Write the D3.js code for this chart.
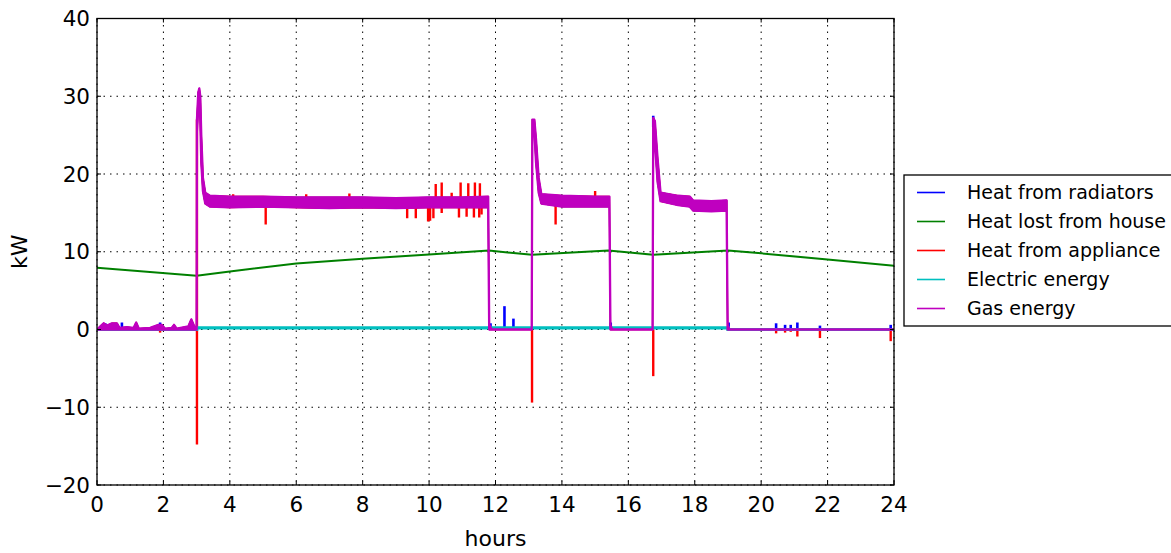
<!DOCTYPE html>
<html>
<head>
<meta charset="utf-8">
<script src="https://cdn.jsdelivr.net/npm/d3@7"></script>
<style>
  html, body { margin: 0; padding: 0; background: #fff; }
  svg { display: block; font-family: "DejaVu Sans", sans-serif; }
</style>
</head>
<body>
<svg id="chart" width="1171" height="553"></svg>
<script>
// ---------------- data ----------------
const xTicks = [0, 2, 4, 6, 8, 10, 12, 14, 16, 18, 20, 22, 24];
const yTicks = [-20, -10, 0, 10, 20, 30, 40];

// shared heating envelope (radiators, appliance and gas overlap almost exactly)
const heatHours = [0, 0.1, 0.2, 0.3, 0.45, 0.6, 0.68, 0.9, 1.1, 1.18, 1.26, 1.6, 1.85, 1.95, 2.05, 2.25, 2.32, 2.4, 2.75, 2.84, 2.93, 3.0,
  3.01, 3.05, 3.08, 3.11, 3.14, 3.19, 3.26, 3.4, 4.0, 5.0, 6.0, 7.0, 8.0, 9.0, 10.0, 11.0, 11.78,
  11.81, 11.86, 11.9, 13.09, 13.11, 13.17, 13.22, 13.3, 13.38, 14.0, 15.0, 15.43,
  15.46, 15.52, 16.73, 16.75, 16.8, 16.88, 16.97, 17.5, 17.85, 17.95, 18.5, 18.96,
  18.99, 19.05, 24];
const gasLow = [0, 0, 0, 0, 0, 0, 0, 0, 0, 0, 0, 0, 0, 0, 0, 0, 0, 0, 0, 0, 0, 0,
  25.5, 28.5, 29.5, 27.0, 21.5, 17.8, 16.2, 15.8, 15.7, 15.8, 15.7, 15.6, 15.7, 15.6, 15.7, 15.7, 15.7,
  0, 0, 0, 0, 25.0, 25.5, 21.5, 17.6, 16.2, 15.8, 15.8, 15.8,
  0, 0, 0, 25.5, 24.0, 19.0, 16.5, 16.0, 15.8, 15.3, 15.2, 15.3,
  0, 0, 0];
const gasHigh = [0, 0.4, 0.8, 0.5, 0.8, 0.8, 0.2, 0.3, 0.2, 0.9, 0.1, 0.2, 0.6, 0.6, 0.1, 0.2, 0.6, 0.1, 0.4, 1.3, 0.4, 0.2,
  27.0, 30.5, 31.0, 30.0, 25.0, 19.5, 17.6, 17.2, 17.1, 17.1, 17.0, 17.0, 17.0, 16.9, 17.0, 17.0, 17.1,
  0.6, 0.2, 0, 0, 27.0, 27.0, 24.5, 19.5, 17.4, 17.2, 17.1, 17.1,
  0.5, 0, 0, 27.2, 26.8, 22.0, 17.6, 17.2, 17.1, 16.6, 16.5, 16.6,
  0.5, 0, 0];

// heat lost from house
const lossHours = [0, 3.0, 4, 6, 8, 10, 11.8, 13.1, 15.4, 16.75, 19.0, 20, 22, 24];
const lossValues = [7.95, 6.9, 7.45, 8.5, 9.1, 9.65, 10.15, 9.6, 10.15, 9.6, 10.15, 9.8, 9.0, 8.2];

// electric energy
const elecHours = [0, 3.0, 3.0, 19.0, 19.0, 24];
const elecValues = [0, 0, 0.2, 0.2, 0, 0];

// spikes of the radiator series: hour, from, to
const radSpikeHours = [0.25, 0.75, 1.9, 11.85, 12.27, 12.54, 15.47, 16.75, 19.02, 20.45, 20.72, 20.89, 21.09, 21.77, 23.9];
const radSpikeFrom  = [0, 0, 0, 0, 0, 0, 0, 26.0, 0, 0, 0, 0, 0, 0, 0];
const radSpikeTo    = [0.8, 0.9, 0.9, 0.8, 3.0, 1.4, 0.9, 27.5, 0.9, 0.8, 0.6, 0.6, 0.9, 0.5, 0.6];

// spikes of the appliance series: hour, from, to
const appSpikeHours = [1.9, 3.01, 4.1, 5.08, 6.3, 7.6, 9.34, 9.6, 9.97, 10.03, 10.13, 10.2, 10.38, 10.68, 10.9, 10.95, 11.13, 11.18, 11.35, 11.38, 11.51, 11.53, 11.58,
  13.1, 13.81, 15.0, 16.75, 20.45, 20.72, 20.89, 21.09, 21.77, 23.9];
const appSpikeFrom = [0, 27.0, 16.5, 16.5, 16.5, 16.5, 16.0, 16.0, 16.0, 16.0, 16.0, 17.0, 15.0, 17.0, 16.0, 17.0, 16.0, 17.0, 16.0, 17.0, 16.0, 17.0, 16.0,
  0, 16.0, 17.0, 0, 0, 0, 0, 0, 0, 0];
const appSpikeTo = [-0.4, -14.8, 17.4, 13.5, 17.4, 17.5, 14.3, 14.3, 13.9, 14.0, 14.3, 18.7, 18.9, 17.6, 14.4, 18.9, 14.5, 18.8, 14.4, 18.9, 14.4, 18.8, 14.8,
  -9.4, 13.5, 17.8, -6.0, -0.5, -0.4, -0.3, -0.9, -1.1, -1.5];

const legendLabels = ["Heat from radiators", "Heat lost from house", "Heat from appliance", "Electric energy", "Gas energy"];
const colors = { radiators: "#0000ff", loss: "#008000", appliance: "#ff0000", electric: "#00bfbf", gas: "#bf00bf" };
const legendColors = [colors.radiators, colors.loss, colors.appliance, colors.electric, colors.gas];

// ---------------- drawing ----------------
const svg = d3.select("#chart");
const pLeft = 97, pRight = 894, pTop = 18.5, pBottom = 485;

const x = d3.scaleLinear().domain([0, 24]).range([pLeft, pRight]);
const y = d3.scaleLinear().domain([-20, 40]).range([pBottom, pTop]);

svg.append("defs").append("clipPath").attr("id", "clip")
  .append("rect").attr("x", pLeft).attr("y", pTop).attr("width", pRight - pLeft).attr("height", pBottom - pTop);

// grid
const grid = svg.append("g");
grid.selectAll(".gx").data(xTicks).join("line")
  .attr("x1", d => x(d)).attr("x2", d => x(d)).attr("y1", pTop).attr("y2", pBottom)
  .attr("stroke", "#000").attr("stroke-width", 1).attr("stroke-dasharray", "1.5,5");
grid.selectAll(".gy").data(yTicks).join("line")
  .attr("x1", pLeft).attr("x2", pRight).attr("y1", d => y(d)).attr("y2", d => y(d))
  .attr("stroke", "#000").attr("stroke-width", 1).attr("stroke-dasharray", "1.5,5");

const plot = svg.append("g").attr("clip-path", "url(#clip)");

const envelope = heatHours.map((h, i) => ({ h, lo: gasLow[i], hi: gasHigh[i] }));
const area = d3.area().x(d => x(d.h)).y0(d => y(d.lo)).y1(d => y(d.hi));

function drawEnvelope(color, w) {
  plot.append("path").datum(envelope).attr("d", area)
    .attr("fill", color).attr("stroke", color).attr("stroke-width", w).attr("stroke-linejoin", "round");
}
function drawSpikes(hours, from, to, color, w) {
  plot.append("g").selectAll("line").data(hours.map((h, i) => ({ h, a: from[i], b: to[i] }))).join("line")
    .attr("x1", d => x(d.h)).attr("x2", d => x(d.h))
    .attr("y1", d => y(d.a)).attr("y2", d => y(d.b))
    .attr("stroke", color).attr("stroke-width", w);
}

// 1. radiators
drawEnvelope(colors.radiators, 1.2);
drawSpikes(radSpikeHours, radSpikeFrom, radSpikeTo, colors.radiators, 2.6);

// 2. heat lost
const line = d3.line().x(d => x(d[0])).y(d => y(d[1]));
plot.append("path").datum(lossHours.map((h, i) => [h, lossValues[i]])).attr("d", line)
  .attr("fill", "none").attr("stroke", colors.loss).attr("stroke-width", 2);

// 3. appliance
drawEnvelope(colors.appliance, 1.4);
drawSpikes(appSpikeHours, appSpikeFrom, appSpikeTo, colors.appliance, 2.4);

// 4. electric
plot.append("path").datum(elecHours.map((h, i) => [h, elecValues[i]])).attr("d", line)
  .attr("fill", "none").attr("stroke", colors.electric).attr("stroke-width", 3.2);

// 5. gas
drawEnvelope(colors.gas, 2.3);

// frame
svg.append("rect").attr("x", pLeft).attr("y", pTop).attr("width", pRight - pLeft).attr("height", pBottom - pTop)
  .attr("fill", "none").attr("stroke", "#000").attr("stroke-width", 1.3);

// ticks (inside, all four sides)
const tk = svg.append("g").attr("stroke", "#000").attr("stroke-width", 1);
xTicks.forEach(t => {
  tk.append("line").attr("x1", x(t)).attr("x2", x(t)).attr("y1", pBottom).attr("y2", pBottom - 4);
  tk.append("line").attr("x1", x(t)).attr("x2", x(t)).attr("y1", pTop).attr("y2", pTop + 4);
});
yTicks.forEach(t => {
  tk.append("line").attr("x1", pLeft).attr("x2", pLeft + 4).attr("y1", y(t)).attr("y2", y(t));
  tk.append("line").attr("x1", pRight).attr("x2", pRight - 4).attr("y1", y(t)).attr("y2", y(t));
});

// tick labels
svg.append("g").selectAll("text").data(xTicks).join("text")
  .attr("x", d => x(d)).attr("y", 512).attr("text-anchor", "middle")
  .attr("font-size", 21.5).attr("fill", "#000").text(d => d);
svg.append("g").selectAll("text").data(yTicks).join("text")
  .attr("x", 90).attr("y", d => y(d)).attr("dy", "0.36em").attr("text-anchor", "end")
  .attr("font-size", 21.5).attr("fill", "#000").text(d => d < 0 ? "\u2212" + Math.abs(d) : d);

// axis labels
svg.append("text").attr("x", (pLeft + pRight) / 2).attr("y", 546).attr("text-anchor", "middle")
  .attr("font-size", 22).attr("fill", "#000").text("hours");
svg.append("text").attr("transform", `translate(27,${(pTop + pBottom) / 2}) rotate(-90)`)
  .attr("text-anchor", "middle").attr("font-size", 22).attr("fill", "#000").text("kW");

// legend
const lg = svg.append("g");
lg.append("rect").attr("x", 904).attr("y", 175).attr("width", 290).attr("height", 151)
  .attr("fill", "#fff").attr("stroke", "#000").attr("stroke-width", 1.3);
legendLabels.forEach((lab, i) => {
  const yy = 192.5 + i * 29;
  lg.append("line").attr("x1", 917).attr("x2", 945).attr("y1", yy).attr("y2", yy)
    .attr("stroke", legendColors[i]).attr("stroke-width", 1.6);
  lg.append("text").attr("x", 967).attr("y", yy).attr("dy", "0.36em")
    .attr("font-size", 19).attr("fill", "#000").text(lab);
});
</script>
</body>
</html>
